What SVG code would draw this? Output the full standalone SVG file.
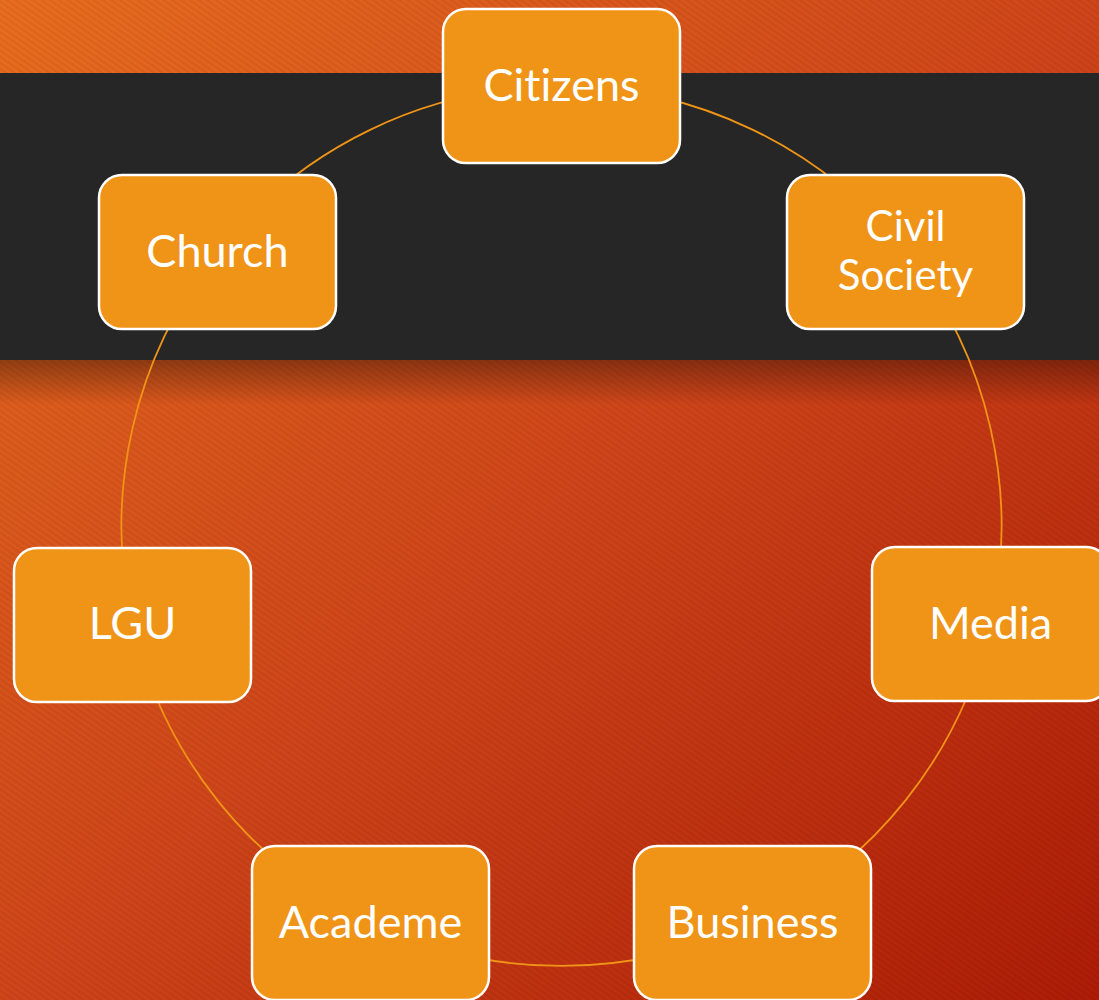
<svg xmlns="http://www.w3.org/2000/svg" width="1099" height="1000" viewBox="0 0 1099 1000">
  <defs>
    <linearGradient id="bg" x1="0" y1="0" x2="1" y2="1">
      <stop offset="0" stop-color="#EA6E1F"/>
      <stop offset="0.5" stop-color="#D0461A"/>
      <stop offset="1" stop-color="#AE1C06"/>
    </linearGradient>
    <pattern id="stripes" width="5" height="5" patternUnits="userSpaceOnUse" patternTransform="rotate(35)">
      <rect width="5" height="2.5" fill="#000000" fill-opacity="0.06"/>
    </pattern>
    <linearGradient id="bandShadow" x1="0" y1="0" x2="0" y2="1">
      <stop offset="0" stop-color="#000000" stop-opacity="0.35"/>
      <stop offset="1" stop-color="#000000" stop-opacity="0"/>
    </linearGradient>
    <style>
      .node rect { fill: #F09418; stroke: #FFFFFF; stroke-width: 2.5; }
      .node text { fill: #FFFFFF; font-family: "Lato", "Open Sans", "DejaVu Sans", sans-serif; font-size: 45px; text-anchor: middle; font-variant-ligatures: none; }
      .node text.two-line { font-size: 42px; }
      .link { fill: none; stroke: #F09418; stroke-width: 1.8; }
    </style>
  </defs>

  <!-- background -->
  <rect width="1099" height="1000" fill="url(#bg)"/>
  <rect width="1099" height="1000" fill="url(#stripes)"/>
  <rect x="0" y="360" width="1099" height="45" fill="url(#bandShadow)"/>
  <rect x="0" y="73" width="1099" height="287" fill="#262626"/>

  <!-- ring of connectors, circle centre (561.5, 526), r = 440 -->
  <g id="connectors">
    <path class="link" d="M561.5 86 A440 440 0 0 1 905.5 251.7"/>
    <path class="link" d="M905.5 251.7 A440 440 0 0 1 990.5 623.9"/>
    <path class="link" d="M990.5 623.9 A440 440 0 0 1 752.4 922.4"/>
    <path class="link" d="M752.4 922.4 A440 440 0 0 1 370.6 922.4"/>
    <path class="link" d="M370.6 922.4 A440 440 0 0 1 132.5 623.9"/>
    <path class="link" d="M132.5 623.9 A440 440 0 0 1 217.5 251.7"/>
    <path class="link" d="M217.5 251.7 A440 440 0 0 1 561.5 86"/>
  </g>

  <g id="citizens" class="node">
    <rect x="443" y="9" width="237" height="154" rx="23"/>
    <text x="561.5" y="101">Citizens</text>
  </g>
  <g id="civil-society" class="node">
    <rect x="787" y="175" width="237" height="154" rx="23"/>
    <text class="two-line" x="905.5" y="241">Civil</text>
    <text class="two-line" x="905.5" y="290">Society</text>
  </g>
  <g id="media" class="node">
    <rect x="872" y="547" width="237" height="154" rx="23"/>
    <text x="990.5" y="639">Media</text>
  </g>
  <g id="business" class="node">
    <rect x="634" y="846" width="237" height="154" rx="23"/>
    <text x="752.5" y="938">Business</text>
  </g>
  <g id="academe" class="node">
    <rect x="252" y="846" width="237" height="154" rx="23"/>
    <text x="370.5" y="938">Academe</text>
  </g>
  <g id="lgu" class="node">
    <rect x="14" y="548" width="237" height="154" rx="23"/>
    <text x="132.5" y="639">LGU</text>
  </g>
  <g id="church" class="node">
    <rect x="99" y="175" width="237" height="154" rx="23"/>
    <text x="217.5" y="267">Church</text>
  </g>
</svg>
